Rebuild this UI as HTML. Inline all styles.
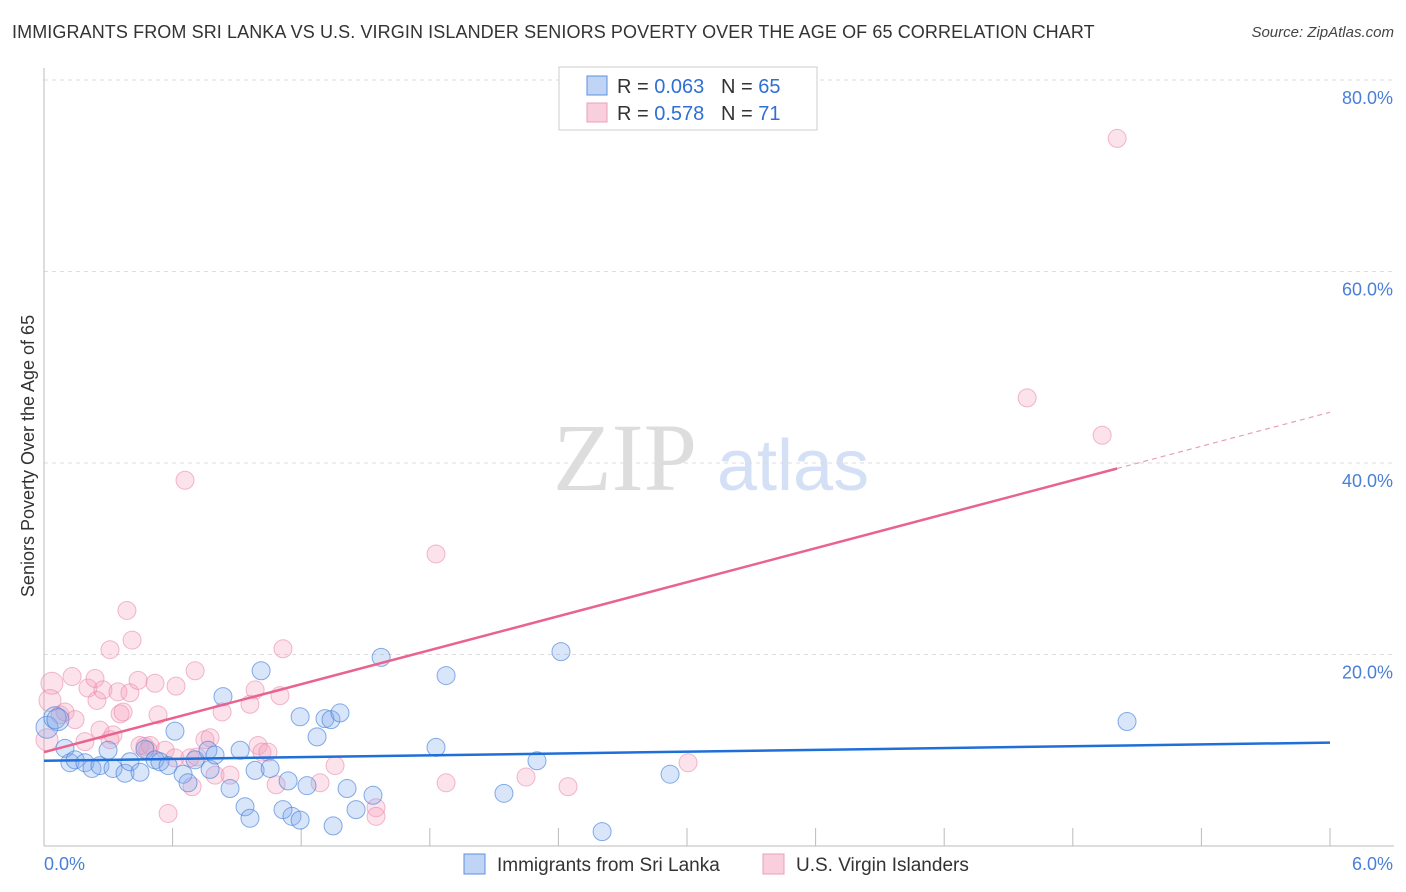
<!DOCTYPE html>
<html><head><meta charset="utf-8"><style>
body{margin:0;background:#fff;font-family:"Liberation Sans",sans-serif;}
#wrap{position:relative;width:1406px;height:892px;overflow:hidden;}
.title{position:absolute;left:12px;top:22px;font-size:18px;color:#333;letter-spacing:0.1px;}
.src{position:absolute;right:12px;top:24px;font-size:15px;font-style:italic;color:#444;}
</style></head><body>
<div id="wrap">
<div class="title">IMMIGRANTS FROM SRI LANKA VS U.S. VIRGIN ISLANDER SENIORS POVERTY OVER THE AGE OF 65 CORRELATION CHART</div>
<div class="src">Source: ZipAtlas.com</div>
<svg id="svg" width="1406" height="892" style="position:absolute;left:0;top:0"></svg>
</div>
<script>
const xTicks=[0,0.6,1.2,1.8,2.4,3.0,3.6,4.2,4.8,5.4,6.0];
const yTicks=[20,40,60,80];
const yTickLabels=["20.0%","40.0%","60.0%","80.0%"];
const xEndLabels=["0.0%","6.0%"];
const blueX=[0.014,0.051,0.065,0.098,0.121,0.145,0.191,0.224,0.261,0.299,0.322,0.378,0.401,0.448,0.471,0.518,0.541,0.579,0.611,0.649,0.672,0.705,0.765,0.775,0.798,0.835,0.868,0.915,0.938,0.961,0.985,1.013,1.055,1.115,1.139,1.157,1.195,1.227,1.195,1.274,1.311,1.339,1.381,1.349,1.414,1.456,1.535,1.573,1.876,1.829,2.146,2.300,2.412,2.604,2.921,5.053];
const blueY=[12.4,13.4,13.2,10.2,8.7,9.0,8.7,8.1,8.4,10.0,8.1,7.6,8.8,7.7,10.1,9.0,8.8,8.4,12.0,7.5,6.6,9.0,10.0,8.0,9.5,15.6,6.0,10.0,4.1,2.9,7.9,18.3,8.1,3.8,6.8,3.1,2.7,6.3,13.5,11.4,13.3,13.2,13.9,2.1,6.0,3.8,5.3,19.7,17.8,10.3,5.5,8.9,20.3,1.5,7.5,13.0];
const pinkX=[0.037,0.028,0.014,0.075,0.098,0.131,0.145,0.191,0.205,0.238,0.247,0.275,0.261,0.308,0.308,0.322,0.345,0.355,0.369,0.387,0.401,0.411,0.439,0.448,0.471,0.495,0.518,0.532,0.565,0.611,0.616,0.658,0.681,0.691,0.705,0.714,0.751,0.775,0.798,0.831,0.868,0.961,0.985,0.999,1.017,1.045,1.083,1.101,1.115,1.288,1.358,1.549,1.549,0.579,1.829,1.876,2.249,2.445,3.005,4.587,4.937,5.007,0.485];
const pinkY=[17.0,15.2,11.1,13.7,14.0,17.7,13.2,10.9,16.5,17.5,15.2,16.3,12.1,11.1,20.5,11.6,16.1,13.8,14.0,24.6,16.0,21.5,17.3,10.5,10.4,10.5,17.0,13.7,10.0,9.2,16.7,38.2,9.2,6.2,18.3,9.3,11.1,11.3,7.4,14.0,7.4,14.8,16.3,10.5,9.8,9.8,6.4,15.7,20.6,6.6,8.4,4.0,3.1,3.4,30.5,6.6,7.2,6.2,8.7,46.8,42.9,73.9,10.0];
const blueTrend=[8.9,10.8];
const pinkTrend=[9.8,45.3];
const pinkSolidEnd=5.007;

const X0=44,X1=1330,YB=846,YT=80;
const sx=v=>X0+v/6*(X1-X0);
const sy=v=>YB-v/80*(YB-YT);
const svg=document.getElementById('svg');
const NS='http://www.w3.org/2000/svg';
function mk(t,a){const e=document.createElementNS(NS,t);for(const k in a)e.setAttribute(k,a[k]);svg.appendChild(e);return e;}

let w=mk('text',{x:553,y:490,'font-family':'Liberation Serif,serif','font-size':96,fill:'#ddd'});w.textContent='ZIP';


w=mk('text',{x:717,y:490,'font-family':'Liberation Sans,sans-serif','font-size':72,fill:'#d3e0f5'});w.textContent='atlas';



yTicks.forEach((t,i)=>{
 const g=mk('line',{x1:X0,x2:1394,y1:sy(t),y2:sy(t),stroke:'#ddd','stroke-dasharray':'4,4'});
 
 
 const l=mk('text',{x:1393,y:sy(t)+24,'text-anchor':'end','font-size':18,fill:'#4a7fd6'});l.textContent=yTickLabels[i];
 
 
});
let ax=mk('line',{x1:X0,x2:X0,y1:68,y2:YB,stroke:'#bbb'});


ax=mk('line',{x1:X0,x2:1394,y1:YB,y2:YB,stroke:'#bbb'});


xTicks.forEach(t=>{
 const k=mk('line',{x1:sx(t),x2:sx(t),y1:YB,y2:YB-18,stroke:'#bbb'});
 
 
});
let xl=mk('text',{x:44,y:870,'font-size':18,fill:'#4a7fd6'});xl.textContent=xEndLabels[0];


xl=mk('text',{x:1393,y:870,'font-size':18,fill:'#4a7fd6','text-anchor':'end'});xl.textContent=xEndLabels[1];


let yt=mk('text',{x:34,y:456,'font-size':18,fill:'#333','text-anchor':'middle',transform:'rotate(-90 34 456)'});yt.textContent='Seniors Poverty Over the Age of 65';



function pts(xs,ys,fill,stroke,name){
 xs.forEach((x,i)=>{
  const r=(i<3)?11:9;
  const c=mk('circle',{cx:sx(x),cy:sy(ys[i]),r:r,fill:fill,stroke:stroke,'stroke-width':1});
  
  
 });
}
pts(pinkX,pinkY,'rgba(244,160,188,0.3)','rgba(232,130,165,0.55)','point-virgin-islanders');
pts(blueX,blueY,'rgba(130,170,235,0.3)','rgba(70,130,220,0.65)','point-sri-lanka');

let tl=mk('line',{x1:sx(0),y1:sy(blueTrend[0]),x2:sx(6),y2:sy(blueTrend[1]),stroke:'#1f6fd8','stroke-width':2.5});


const pAt=x=>pinkTrend[0]+(pinkTrend[1]-pinkTrend[0])*x/6;
tl=mk('line',{x1:sx(0),y1:sy(pAt(0)),x2:sx(pinkSolidEnd),y2:sy(pAt(pinkSolidEnd)),stroke:'#e8648f','stroke-width':2.5});


tl=mk('line',{x1:sx(pinkSolidEnd),y1:sy(pAt(pinkSolidEnd)),x2:sx(6),y2:sy(pAt(6)),stroke:'#e8a0b8','stroke-width':1.2,'stroke-dasharray':'5,4'});



let lb=mk('rect',{x:559,y:67,width:258,height:63,fill:'#fff',stroke:'#ccc'});


[[0,'0.063','65','rgba(130,170,235,0.5)','#5b8fe0'],[1,'0.578','71','rgba(244,160,188,0.5)','#e8a0b8']].forEach(([i,r,n,f,s])=>{
 const y=76+i*27;
 const b=mk('rect',{x:587,y:y,width:20,height:19,fill:f,stroke:s});
 
 
 const t=mk('text',{x:617,y:y+17,'font-size':20,fill:'#333'});
 t.innerHTML='R = <tspan fill="#2f6fd6">'+(i?' ':'')+r+'</tspan>&#160;&#160;&#160;N = <tspan fill="#2f6fd6">'+(i?' ':'')+n+'</tspan>';
 
 
});
[[464,'Immigrants from Sri Lanka','rgba(130,170,235,0.5)','#5b8fe0'],[763,'U.S. Virgin Islanders','rgba(244,160,188,0.5)','#e8a0b8']].forEach(([x,l,f,s])=>{
 const b=mk('rect',{x:x,y:854,width:21,height:20,fill:f,stroke:s});
 
 
 const t=mk('text',{x:x+33,y:871,'font-size':19,fill:'#333'});t.textContent=l;
 
 
});
</script>
</body></html>
